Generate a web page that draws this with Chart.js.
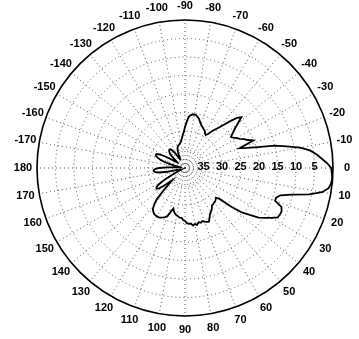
<!DOCTYPE html>
<html>
<head>
<meta charset="utf-8">
<script src="https://cdn.jsdelivr.net/npm/chart.js@4.4.1/dist/chart.umd.min.js"></script>
<style>
  html, body { margin: 0; padding: 0; background: #fff; }
  #wrap { width: 359px; height: 339px; }
</style>
</head>
<body>
<div id="wrap"><canvas id="c" width="359" height="339"></canvas></div>
<script>
// Sample angles in degrees (clockwise from 0 at the right), 2° apart
const angleStep = 2;
const angles = [];
for (let a = 0; a < 360; a += angleStep) angles.push(a);

// Relative level in dB below peak at each sample angle (0 = outer ring, 40 = centre)
const levelDb = [
  0.5, 0.3, 0.1, 0.3, 0.8, 2.4, 5.7, 10.3, 13.2, 14.1,
  14.1, 11.9, 11.4, 11.4, 11.6, 13.0, 14.6, 16.0, 18.4, 20.5,
  23.8, 27.6, 28.4, 28.1, 27.8, 27.8, 27.6, 27.6, 27.0, 26.5,
  26.2, 25.7, 24.9, 24.1, 24.3, 24.6, 24.9, 24.6, 24.9, 24.3,
  24.6, 24.3, 24.9, 24.9, 25.1, 25.7, 25.9, 26.5, 26.5, 26.8,
  27.0, 27.3, 27.8, 28.6, 27.6, 26.2, 25.7, 25.4, 25.1, 24.9,
  24.9, 24.9, 25.1, 25.4, 25.9, 27.0, 28.6, 31.9, 35.1, 34.1,
  32.4, 31.1, 30.5, 30.7, 31.6, 33.5, 36.0, 37.8, 38.6, 38.9,
  38.6, 38.6, 38.4, 37.8, 35.1, 33.0, 31.9, 31.5, 31.5, 31.9,
  33.0, 35.1, 37.3, 38.4, 38.6, 38.4, 37.6, 36.2, 34.6, 33.2,
  32.4, 31.6, 31.4, 31.4, 32.2, 33.5, 35.4, 36.8, 37.3, 37.0,
  36.2, 35.1, 34.3, 33.9, 33.6, 33.5, 33.6, 34.1, 35.1, 36.5,
  37.3, 37.3, 36.5, 35.4, 34.6, 34.1, 33.8, 33.6, 33.5, 33.2,
  33.0, 32.6, 31.9, 31.1, 30.3, 28.9, 27.6, 26.2, 25.7, 25.4,
  25.3, 25.4, 25.8, 26.2, 26.9, 27.4, 27.8, 28.1, 28.4, 28.6,
  29.2, 29.5, 28.9, 27.8, 26.8, 25.7, 24.3, 22.4, 20.5, 19.5,
  21.4, 23.0, 24.1, 25.0, 24.5, 23.8, 23.2, 22.2, 21.4, 20.1,
  24.3, 22.4, 19.5, 15.1, 11.9, 8.4, 5.9, 4.3, 3.0, 1.6
];

// Angle tick labels around the rim
const angleTicks = [0, 10, 20, 30, 40, 50, 60, 70, 80, 90, 100, 110, 120, 130, 140, 150, 160, 170, 180,
  -170, -160, -150, -140, -130, -120, -110, -100, -90, -80, -70, -60, -50, -40, -30, -20, -10];

// Radial tick labels drawn along the 0° spoke
const radialTicks = [35, 30, 25, 20, 15, 10, 5];

const LABEL_FONT = 'bold 11px "Liberation Sans", Arial, sans-serif';

const rimAndLabels = {
  id: 'rimAndLabels',
  afterDraw(chart) {
    const s = chart.scales.r;
    const ctx = chart.ctx;
    const R = s.getDistanceFromCenterForValue(0);
    ctx.save();
    // outer rim
    ctx.beginPath();
    ctx.arc(s.xCenter, s.yCenter, R, 0, Math.PI * 2);
    ctx.strokeStyle = '#000';
    ctx.lineWidth = 1.6;
    ctx.stroke();

    ctx.fillStyle = '#000';
    ctx.font = LABEL_FONT;
    ctx.textAlign = 'center';
    ctx.textBaseline = 'middle';
    // angle labels
    angleTicks.forEach(t => {
      const deg = (t + 360) % 360;
      const idx = angles.indexOf(deg);
      const p = s.getPointPosition(idx, R + 14);
      ctx.fillText(String(t), p.x, p.y);
    });
    // radial labels
    radialTicks.forEach(v => {
      const d = s.getDistanceFromCenterForValue(v);
      ctx.fillText(String(v), s.xCenter + d, s.yCenter - 1);
    });
    ctx.restore();
  }
};

new Chart(document.getElementById('c'), {
  type: 'radar',
  data: {
    labels: angles.map(String),
    datasets: [{
      data: levelDb,
      borderColor: '#000',
      borderWidth: 1.8,
      fill: false,
      pointRadius: 0,
      tension: 0
    }]
  },
  options: {
    responsive: false,
    animation: false,
    devicePixelRatio: 1,
    layout: { padding: { left: 37, right: 26, top: 20, bottom: 22 } },
    plugins: { legend: { display: false }, tooltip: { enabled: false } },
    scales: {
      r: {
        min: 0,
        max: 40,
        reverse: true,
        startAngle: 90,
        ticks: { display: false, stepSize: 5 },
        pointLabels: { display: false },
        grid: {
          circular: true,
          color: '#555',
          lineWidth: 1
        },
        border: { dash: [1, 3] },
        angleLines: {
          display: true,
          color: '#555',
          borderDash: [1, 3],
          lineWidth: ctx => (angles[ctx.index] % 10 === 0 ? 1 : 0)
        }
      }
    }
  },
  plugins: [rimAndLabels]
});
</script>
</body>
</html>
